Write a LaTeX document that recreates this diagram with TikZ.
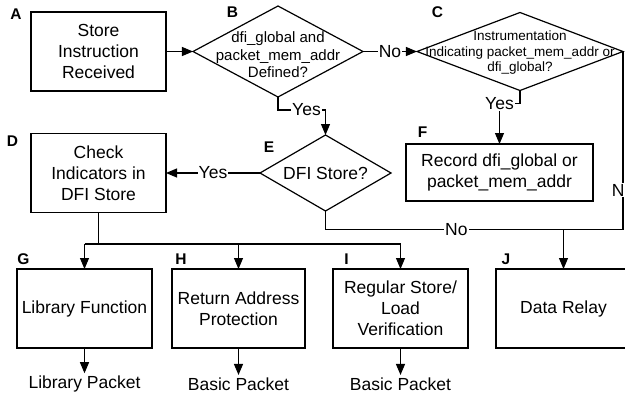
\documentclass[tikz,border=0pt]{standalone}
\usepackage{fontspec}
\setmainfont{Liberation Sans}
\usetikzlibrary{shapes.geometric,arrows.meta}
\begin{document}
\begin{tikzpicture}[x=1pt,y=-1pt,
  line width=1.2pt,
  txt/.style={font=\fontsize{17.5}{21}\selectfont},
  box/.style={draw,rectangle,minimum width=135pt,minimum height=79pt,inner sep=0pt,outer sep=0pt,align=center,txt},
  dia/.style={draw,diamond,inner sep=0pt,outer sep=0pt},
  dtext/.style={align=center,inner sep=0pt},
  tag/.style={font=\fontsize{15.5}{18}\selectfont\bfseries,inner sep=0pt},
  lab/.style={fill=white,inner sep=1pt,txt},
  arr/.style={-{Triangle[length=11pt,width=9pt]}},
  outtxt/.style={txt,inner sep=2pt}
]
\useasboundingbox (0,0) rectangle (625,397);

% boxes
\node[box] (A) at (98.5,51.5) {Store\\Instruction\\Received};
\node[dia,minimum width=170pt,minimum height=91pt] (B) at (278,51.5) {};
\node[dtext,font=\fontsize{15}{17.5}\selectfont] (Bt) at (278,55) {dfi\_global and\\packet\_mem\_addr\\Defined?};
\node[dia,minimum width=206pt,minimum height=78pt] (C) at (520,51.5) {};
\node[dtext,font=\fontsize{13.5}{15.5}\selectfont] (Ct) at (520,53) {Instrumentation\\Indicating packet\_mem\_addr or\\dfi\_global?};
\node[box] (D) at (98.5,173) {Check\\Indicators in\\DFI Store};
\node[dia,minimum width=131pt,minimum height=76pt] (E) at (325.5,173) {};
\node[dtext,txt] (Et) at (325.5,173) {DFI Store?};
\node[box,minimum width=187pt,minimum height=57pt] (F) at (499.5,172.5) {Record dfi\_global or\\packet\_mem\_addr};
\node[box] (G) at (84.5,308.5) {Library Function};
\node[box,minimum width=133pt] (H) at (238.5,308.5) {Return Address\\Protection};
\node[box] (I) at (400.5,308.5) {Regular Store/\\Load\\Verification};
\node[box] (J) at (563.5,308.5) {Data Relay};

% outputs
\node[outtxt] (Gp) at (84.5,384) {Library Packet};
\node[outtxt] (Hp) at (238.5,384) {Basic Packet};
\node[outtxt] (Ip) at (400.5,384) {Basic Packet};

% tags
\node[tag] (tA) at (16,14.5) {A};
\node[tag] (tB) at (232.5,12.5) {B};
\node[tag] (tC) at (437.5,12.5) {C};
\node[tag] (tD) at (12.5,141) {D};
\node[tag] (tE) at (269,147.5) {E};
\node[tag] (tF) at (422.5,132.5) {F};
\node[tag] (tG) at (23.5,259) {G};
\node[tag] (tH) at (181,259) {H};
\node[tag] (tI) at (346.5,259) {I};
\node[tag] (tJ) at (506,259) {J};

% connectors
\draw[arr] (A) -- (B);
\draw[arr] (B) -- node[lab]{No} (C);
\draw[arr] (B.south) -- ++(0,13) -| node[lab,pos=0.3]{Yes} (E.north);
\draw[arr] (C.south) -- ++(0,13) -| node[lab,pos=0.5]{Yes} (F.north);
\draw[arr] (E) -- node[lab]{Yes} (D);

\coordinate (rc) at (623,229.5);
\draw (E.south) |- node[lab,pos=0.72]{No} (rc);
\draw (C.east) -- node[lab,pos=0.78]{No} (rc);
\draw[arr] (J.north |- rc) -- (J.north);

\coordinate (bus) at (98.5,244);
\draw (D.south) -- (bus);
\draw (G.north |- bus) -- (I.north |- bus);
\draw[arr] (G.north |- bus) -- (G.north);
\draw[arr] (H.north |- bus) -- (H.north);
\draw[arr] (I.north |- bus) -- (I.north);

\draw[arr] (G.south) -- (Gp.north);
\draw[arr] (H.south) -- (Hp.north);
\draw[arr] (I.south) -- (Ip.north);
\end{tikzpicture}
\end{document}
